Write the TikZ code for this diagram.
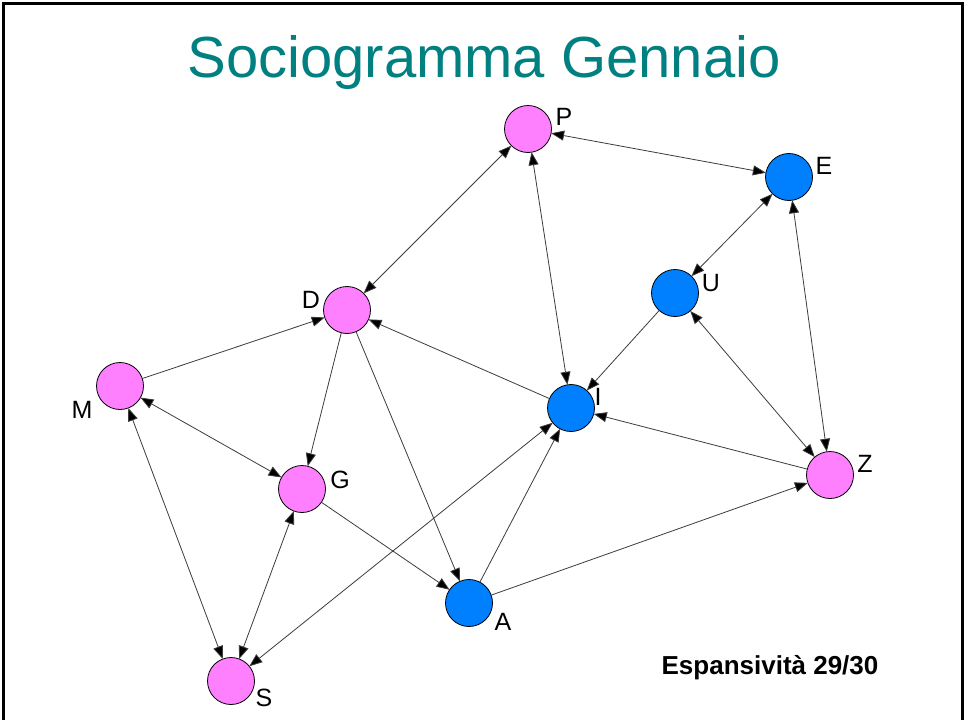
\documentclass[tikz,border=0pt]{standalone}
\usepackage{fontspec}
\setmainfont{Liberation Sans}
\usetikzlibrary{arrows.meta}
\definecolor{pinkn}{RGB}{255,128,255}
\definecolor{bluen}{RGB}{0,128,255}
\definecolor{titlec}{RGB}{0,128,128}
\definecolor{edgec}{RGB}{60,60,60}
\begin{document}
\begin{tikzpicture}[x=1pt,y=-1pt,
  pnode/.style={circle,draw=black,line width=0.8pt,fill=pinkn,minimum size=47pt,inner sep=0pt,outer sep=0pt},
  bnode/.style={circle,draw=black,line width=0.8pt,fill=bluen,minimum size=47pt,inner sep=0pt,outer sep=0pt},
  lab/.style={font=\fontsize{25}{25}\selectfont,inner sep=0pt},
  edge/.style={draw=edgec,line width=0.8pt},
  tip/.style={-{Triangle[length=13pt,width=10pt,fill=black]}},
  both/.style={{Triangle[length=13pt,width=10pt,fill=black]}-{Triangle[length=13pt,width=10pt,fill=black]}}
]
\useasboundingbox (0,0) rectangle (965,720);
\fill[white] (0,0) rectangle (965,720);
\draw[line width=3pt] (3,720) -- (3,3) -- (962,3) -- (962,720);
\node[font=\fontsize{58}{58}\selectfont,text=titlec,inner sep=0pt] (title) at (484,63) {Sociogramma Gennaio};

\node[pnode] (P) at (528,129) {};
\node[bnode] (E) at (789,177) {};
\node[bnode] (U) at (675,293) {};
\node[pnode] (D) at (347,310) {};
\node[pnode] (M) at (120,386) {};
\node[bnode] (I) at (571,408) {};
\node[pnode] (Z) at (830,475) {};
\node[pnode] (G) at (302,489) {};
\node[bnode] (A) at (469,603) {};
\node[pnode] (S) at (231,681) {};

\node[lab] (lP) at (564,117) {P};
\node[lab] (lE) at (824,166) {E};
\node[lab] (lU) at (711,283) {U};
\node[lab] (lD) at (311,300) {D};
\node[lab] (lM) at (82,410) {M};
\node[lab] (lI) at (598,397) {I};
\node[lab] (lZ) at (865,464) {Z};
\node[lab] (lG) at (340,480) {G};
\node[lab] (lA) at (503,622) {A};
\node[lab] (lS) at (264,698) {S};

\draw[edge,both] (P) -- (E);
\draw[edge,both] (P) -- (D);
\draw[edge,both] (P) -- (I);
\draw[edge,both] (E) -- (U);
\draw[edge,both] (E) -- (Z);
\draw[edge,tip] (U) -- (I);
\draw[edge,both] (U) -- (Z);
\draw[edge,tip] (Z) -- (I);
\draw[edge,tip] (A) -- (Z);
\draw[edge,tip] (A) -- (I);
\draw[edge,both] (S) -- (I);
\draw[edge,tip] (I) -- (D);
\draw[edge,tip] (M) -- (D);
\draw[edge,tip] (D) -- (G);
\draw[edge,tip] (D) -- (A);
\draw[edge,tip] (G) -- (A);
\draw[edge,both] (M) -- (G);
\draw[edge,both] (M) -- (S);
\draw[edge,both] (G) -- (S);

\node[font=\bfseries\fontsize{26}{26}\selectfont,inner sep=0pt] (esp) at (770,668) {Espansività 29/30};
\end{tikzpicture}
\end{document}
